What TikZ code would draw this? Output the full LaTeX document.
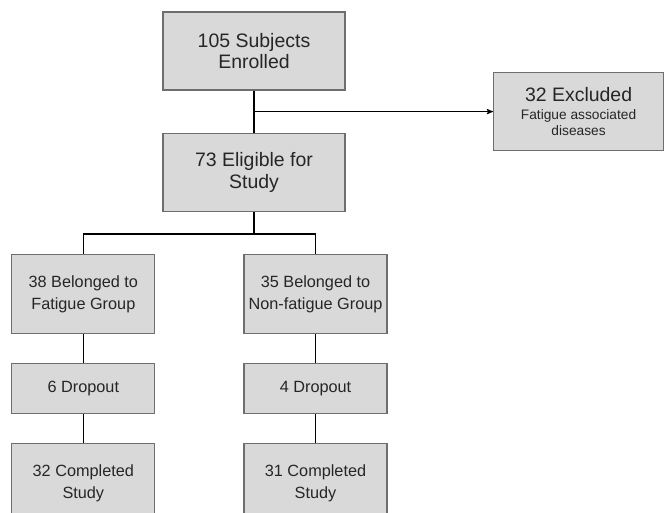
\documentclass[tikz,border=0pt]{standalone}
\usepackage{fontspec}
\setmainfont{Liberation Sans}
\usetikzlibrary{arrows,positioning}
\definecolor{boxfill}{HTML}{D9D9D9}
\definecolor{boxline}{HTML}{6E6E6E}

\begin{document}
\begin{tikzpicture}[>=stealth',node distance=31.5pt]
  \tikzstyle{box}=[rectangle,draw=boxline,fill=boxfill,line width=0.9pt,align=center,text=black!85]
  \tikzstyle{bigbox}=[box,minimum width=136.5pt,minimum height=58.5pt,font=\fontsize{14.6}{16.2}\selectfont]
  \tikzstyle{groupbox}=[box,minimum width=107.25pt,minimum height=59.25pt,font=\fontsize{12.2}{16.5}\selectfont]
  \tikzstyle{dropbox}=[groupbox,minimum height=37.5pt]
  \tikzstyle{link}=[black,line width=1.1pt]

  \useasboundingbox (-190.5pt,38.25pt) rectangle (308.25pt,-346.5pt);

  \node[bigbox] (enrol)                 {105 Subjects\\Enrolled};
  \node[bigbox] (elig)   [below=of enrol] {73 Eligible for\\Study};
  \path (enrol.south) -- (elig.north) coordinate[midway] (split);
  \node[box,minimum width=127.5pt,minimum height=58.5pt,font=\fontsize{10.3}{11.5}\selectfont] (excl) [right=179.25pt of split]
      {{\fontsize{14.6}{16}\selectfont 32 Excluded}\\[2pt]Fatigue associated\\diseases};
  \coordinate[below=16.5pt of elig] (fork);

  \node[groupbox] (fat)    [below=of elig,xshift=-128pt] {38 Belonged to\\Fatigue Group};
  \node[groupbox] (nonfat) [right=66pt of fat]           {35 Belonged to\\Non-fatigue Group};
  \node[dropbox]  (dropA)  [below=21.75pt of fat]        {6 Dropout};
  \node[dropbox]  (dropB)  [below=21.75pt of nonfat]     {4 Dropout};
  \node[groupbox] (doneA)  [below=21.75pt of dropA]      {32 Completed\\Study};
  \node[groupbox] (doneB)  [below=21.75pt of dropB]      {31 Completed\\Study};

  \draw[link] (enrol) -- (elig);
  \draw[->,black,line width=0.7pt] (split) -- (excl);
  \draw[link] (elig) -- (fork);
  \draw[link] (fat.north) |- (fork) -| (nonfat.north);
  \draw[link] (fat) -- (dropA) -- (doneA);
  \draw[link] (nonfat) -- (dropB) -- (doneB);
\end{tikzpicture}
\end{document}
